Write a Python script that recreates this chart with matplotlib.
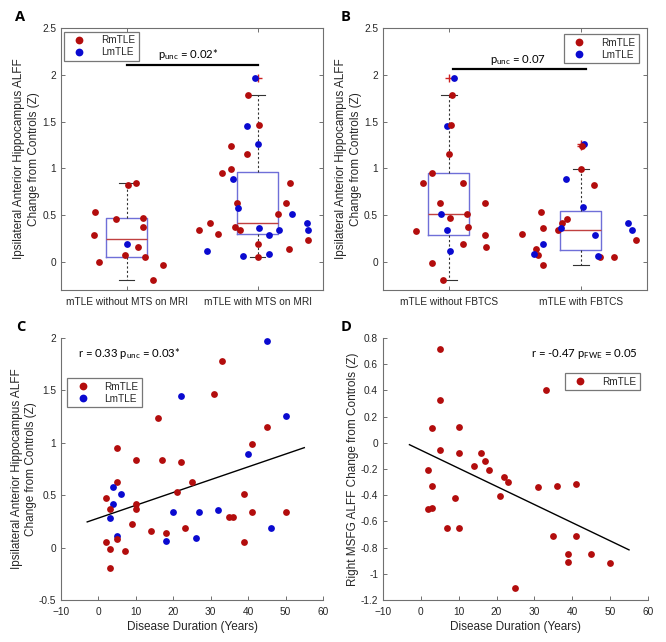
import numpy as np
import matplotlib
matplotlib.use("Agg")
import matplotlib.pyplot as plt
from matplotlib.lines import Line2D

plt.rcParams['font.family'] = ['Liberation Sans', 'DejaVu Sans']

RED = '#b30d0d'
BLUE = '#0a0ad0'

# ---------------- Panel A data (MTS on MRI) ----------------
a_cats = ['mTLE without MTS on MRI', 'mTLE with MTS on MRI']
a_g1_vals = [0.537, 0.29, 0.0, 0.455, 0.82, 0.84, 0.196, 0.466, 0.374, 0.164, 0.078, 0.053, -0.036, -0.19]
a_g1_side = ['R', 'R', 'R', 'R', 'R', 'R', 'L', 'R', 'R', 'R', 'R', 'R', 'R', 'R']
a_g1_jit = [-0.239, -0.247, -0.211, -0.084, 0.015, 0.069, 0.002, 0.127, 0.125, 0.084, -0.015, 0.14, 0.275, 0.206]
a_g2_vals = [1.97, 1.78, 1.45, 1.46, 1.24, 1.26, 1.15, 0.95, 0.99, 0.89, 0.84, 0.63, 0.58, 0.63, 0.51, 0.51,
             0.42, 0.42, 0.34, 0.295, 0.37, 0.34, 0.36, 0.34, 0.29, 0.34, 0.23, 0.196, 0.14, 0.114, 0.06, 0.053, 0.09]
a_g2_side = ['L', 'R', 'L', 'R', 'R', 'L', 'R', 'R', 'R', 'L', 'R', 'R', 'L', 'R', 'R', 'L',
             'R', 'L', 'R', 'R', 'R', 'R', 'L', 'L', 'L', 'L', 'R', 'R', 'R', 'L', 'L', 'R', 'L']
a_g2_jit = [-0.02, -0.072, -0.084, 0.01, -0.206, 0.0, -0.082, -0.27, -0.206, -0.19, 0.249, -0.157, -0.152, 0.219,
            0.16, 0.267, -0.359, 0.379, -0.443, -0.3, -0.175, -0.135, 0.015, 0.165, 0.084, 0.389, 0.384, 0.003,
            0.244, -0.387, -0.112, 0.0, 0.089]
a_p_text = 'p$_{\\mathregular{unc}}$ = 0.02*'

# ---------------- Panel B data (FBTCS) ----------------
b_cats = ['mTLE without FBTCS', 'mTLE with FBTCS']
b_g1_vals = [1.97, 1.78, 1.45, 1.466, 1.15, 0.95, 0.84, 0.84, 0.633, 0.51, 0.51, 0.633, 0.47, 0.335, 0.338,
             0.374, 0.29, 0.196, 0.164, 0.114, -0.007, -0.19]
b_g1_side = ['L', 'R', 'L', 'R', 'R', 'R', 'R', 'R', 'R', 'L', 'R', 'R', 'R', 'R', 'L',
             'R', 'R', 'R', 'R', 'L', 'R', 'R']
b_g1_jit = [0.041, 0.02, -0.015, 0.015, 0.0, -0.13, -0.198, 0.107, -0.071, -0.064, 0.135, 0.27, 0.008, -0.247,
            -0.018, 0.145, 0.272, 0.107, 0.277, 0.008, -0.132, -0.046]
b_g2_vals = [1.263, 1.24, 0.99, 0.89, 0.82, 0.584, 0.534, 0.42, 0.456, 0.367, 0.338, 0.363, 0.42, 0.338, 0.295,
             0.288, 0.231, 0.196, 0.142, 0.078, 0.089, 0.053, 0.06, 0.053, -0.036]
b_g2_side = ['L', 'R', 'R', 'L', 'R', 'L', 'R', 'R', 'R', 'R', 'R', 'L', 'L', 'L', 'R',
             'L', 'R', 'L', 'R', 'R', 'L', 'R', 'L', 'R', 'R']
b_g2_jit = [0.02, 0.01, 0.0, -0.117, 0.097, 0.015, -0.303, -0.14, -0.104, -0.285, -0.176, -0.153, 0.359, 0.389,
            -0.443, 0.109, 0.417, -0.285, -0.338, -0.326, -0.359, 0.142, 0.13, 0.254, -0.29]
b_p_text = 'p$_{\\mathregular{unc}}$ = 0.07'

# ---------------- Panel C data ----------------
c_dur = [45, 33, 31, 22, 16, 50, 45, 41, 40, 5, 10, 17, 22, 25, 5, 4, 6, 39, 21, 2, 4, 10, 3, 10, 20, 27, 32,
         35, 36, 41, 50, 3, 9, 14, 18, 23, 5, 5, 18, 26, 46, 39, 2, 3, 7, 3]
c_val = [1.97, 1.78, 1.47, 1.45, 1.24, 1.26, 1.15, 0.99, 0.89, 0.95, 0.84, 0.84, 0.82, 0.63, 0.63, 0.58, 0.51,
         0.51, 0.535, 0.47, 0.42, 0.42, 0.37, 0.365, 0.34, 0.34, 0.36, 0.29, 0.296, 0.34, 0.34, 0.287, 0.23,
         0.16, 0.14, 0.19, 0.11, 0.08, 0.06, 0.09, 0.19, 0.054, 0.054, -0.01, -0.035, -0.19]
c_side = ['L', 'R', 'R', 'L', 'R', 'L', 'R', 'R', 'L', 'R', 'R', 'R', 'R', 'R', 'R', 'L', 'L', 'R', 'R', 'R',
          'L', 'R', 'R', 'R', 'L', 'L', 'L', 'R', 'R', 'R', 'R', 'L', 'R', 'R', 'R', 'R', 'L', 'R', 'L', 'L',
          'L', 'R', 'R', 'R', 'R', 'R']
c_text = 'r = 0.33 p$_{\\mathregular{unc}}$ = 0.03*'

# ---------------- Panel D data ----------------
d_dur = [5, 5, 3, 10, 5, 10, 16, 17, 14, 18, 2, 22, 23, 3, 31, 36, 41, 33, 21, 9, 2, 3, 7, 10, 35, 41, 39, 39,
         45, 50, 25]
d_val = [0.72, 0.33, 0.11, 0.12, -0.058, -0.076, -0.076, -0.137, -0.177, -0.21, -0.21, -0.263, -0.30, -0.33,
         -0.337, -0.33, -0.314, 0.407, -0.406, -0.418, -0.505, -0.497, -0.647, -0.652, -0.708, -0.71, -0.847,
         -0.91, -0.852, -0.918, -1.106]
d_text = 'r = -0.47 p$_{\\mathregular{FWE}}$ = 0.05'

# ---------------- helpers ----------------
SPINE = '#707070'
TXT = '#262626'
ANN_FONT = ['Lato', 'DejaVu Sans']
TICK_FS = 7.3
LABEL_FS = 8.5
LEG_FS = 7.2
ANN_FS = 8.2
MS = 24


def style_axes(ax, box=True):
    for s in ax.spines.values():
        s.set_color(SPINE)
        s.set_linewidth(0.8)
    if not box:
        ax.spines['top'].set_visible(False)
        ax.spines['right'].set_visible(False)
    ax.tick_params(direction='in', length=3, width=0.7, color=SPINE, labelcolor=TXT, labelsize=TICK_FS,
                   top=box, right=box)
    ax.tick_params(axis='x', pad=5)
    ax.tick_params(axis='y', pad=3.5)


def box_stats(vals):
    v = np.asarray(vals, float)
    q1, med, q3 = np.percentile(v, [25, 50, 75], method='hazen')
    iqr = q3 - q1
    lo_f, hi_f = q1 - 1.5 * iqr, q3 + 1.5 * iqr
    inside = v[(v >= lo_f) & (v <= hi_f)]
    fl = v[(v < lo_f) | (v > hi_f)]
    return dict(med=med, q1=q1, q3=q3, whislo=inside.min(), whishi=inside.max(), fliers=fl)


def add_legend(ax, labels, colors, loc, anchor):
    handles = [Line2D([], [], marker='o', linestyle='none', markersize=5.6, color=c, markeredgewidth=0)
               for c in colors]
    leg = ax.legend(handles, labels, loc=loc, bbox_to_anchor=anchor, fontsize=LEG_FS, frameon=True,
                    fancybox=False, handlelength=2.4, handletextpad=1.0, borderpad=0.35, labelspacing=0.2,
                    borderaxespad=0, edgecolor='#777777', framealpha=1)
    leg.get_frame().set_linewidth(0.9)
    for t in leg.get_texts():
        t.set_color(TXT)


def box_panel(ax, cats, g_vals, g_sides, g_jits, ptext, bar_x, bar_y, text_x, legend_loc, legend_anchor):
    stats = [box_stats(v) for v in g_vals]
    ax.bxp(stats, positions=[1, 2], widths=0.31, showfliers=True, patch_artist=False,
           boxprops=dict(color='#6f6fd8', linewidth=1.0),
           medianprops=dict(color='#c04040', linewidth=1.0),
           whiskerprops=dict(color='#333333', linewidth=0.8, linestyle=(0, (2, 2))),
           capprops=dict(color='#333333', linewidth=0.8),
           capwidths=0.12,
           flierprops=dict(marker='+', markeredgecolor='#cc2222', markersize=6, markeredgewidth=1))
    for i, (vals, sides, jits) in enumerate(zip(g_vals, g_sides, g_jits)):
        for v, s, j in zip(vals, sides, jits):
            ax.scatter(i + 1 + j, v, s=MS, color=RED if s == 'R' else BLUE, zorder=4, linewidths=0)
    ax.plot(bar_x, [bar_y, bar_y], color='black', linewidth=1.6)
    ax.text(text_x, bar_y + 0.03, ptext, ha='center', va='bottom', fontsize=ANN_FS, family=ANN_FONT)
    ax.set_xlim(0.5, 2.5)
    ax.set_ylim(-0.3, 2.5)
    ax.set_xticks([1, 2])
    ax.set_xticklabels(cats)
    yt = np.arange(0, 2.51, 0.5)
    ax.set_yticks(yt)
    ax.set_yticklabels(['%g' % t for t in yt])
    ax.set_ylabel('Ipsilateral Anterior Hippocampus ALFF\nChange from Controls (Z)', fontsize=LABEL_FS,
                  color=TXT, labelpad=1.5, linespacing=1.3)
    style_axes(ax, box=True)
    add_legend(ax, ['RmTLE', 'LmTLE'], [RED, BLUE], legend_loc, legend_anchor)


fig = plt.figure(figsize=(6.66, 6.42), dpi=100)

axA = fig.add_axes([0.0916, 0.5483, 0.3934, 0.408])
axB = fig.add_axes([0.575, 0.5483, 0.3964, 0.408])
axC = fig.add_axes([0.0916, 0.0654, 0.3934, 0.408])
axD = fig.add_axes([0.575, 0.0654, 0.3979, 0.408])

box_panel(axA, a_cats, [a_g1_vals, a_g2_vals], [a_g1_side, a_g2_side], [a_g1_jit, a_g2_jit],
          a_p_text, [1, 2], 2.11, 1.47, 'upper left', (0.011, 0.985))
box_panel(axB, b_cats, [b_g1_vals, b_g2_vals], [b_g1_side, b_g2_side], [b_g1_jit, b_g2_jit],
          b_p_text, [1.03, 2.04], 2.057, 1.52, 'upper right', (0.97, 0.977))

# Panel C
for x, y, s in zip(c_dur, c_val, c_side):
    axC.scatter(x, y, s=MS, color=RED if s == 'R' else BLUE, zorder=4, linewidths=0)
kC = np.polyfit(np.array(c_dur, float), np.array(c_val, float), 1)
xf = np.array([-3, 55])
axC.plot(xf, np.polyval(kC, xf), color='black', linewidth=1.0)
axC.set_xlim(-10, 60)
axC.set_ylim(-0.5, 2)
axC.set_xticks(np.arange(-10, 61, 10))
cy = np.arange(-0.5, 2.01, 0.5)
axC.set_yticks(cy)
axC.set_yticklabels(['%g' % t for t in cy])
axC.set_xlabel('Disease Duration (Years)', fontsize=LABEL_FS, color=TXT, labelpad=3)
axC.set_ylabel('Ipsilateral Anterior Hippocampus ALFF\nChange from Controls (Z)', fontsize=LABEL_FS,
               color=TXT, labelpad=1, linespacing=1.3)
axC.text(0.063, 0.94, c_text, transform=axC.transAxes, ha='left', va='center', fontsize=ANN_FS,
         family=ANN_FONT)
style_axes(axC, box=False)
add_legend(axC, ['RmTLE', 'LmTLE'], [RED, BLUE], 'upper left', (0.023, 0.847))

# Panel D
for x, y in zip(d_dur, d_val):
    axD.scatter(x, y, s=MS, color=RED, zorder=4, linewidths=0)
kD = np.polyfit(np.array(d_dur, float), np.array(d_val, float), 1)
axD.plot(xf, np.polyval(kD, xf), color='black', linewidth=1.0)
axD.set_xlim(-10, 60)
axD.set_ylim(-1.2, 0.8)
axD.set_xticks(np.arange(-10, 61, 10))
dy = np.round(np.arange(-1.2, 0.81, 0.2), 1) + 0.0
axD.set_yticks(dy)
axD.set_yticklabels(['%g' % (t if abs(t) > 1e-9 else 0) for t in dy])
axD.set_xlabel('Disease Duration (Years)', fontsize=LABEL_FS, color=TXT, labelpad=3)
axD.set_ylabel('Right MSFG ALFF Change from Controls (Z)', fontsize=LABEL_FS, color=TXT, labelpad=1.5)
axD.text(0.96, 0.94, d_text, transform=axD.transAxes, ha='right', va='center', fontsize=ANN_FS,
         family=ANN_FONT)
style_axes(axD, box=False)
add_legend(axD, ['RmTLE'], [RED], 'upper right', (0.97, 0.866))

# Panel letters
for lab, (x, y) in zip(['A', 'B', 'C', 'D'], [(0.023, 0.973), (0.511, 0.974), (0.024, 0.49), (0.511, 0.49)]):
    fig.text(x, y, lab, fontsize=10.5, fontweight='bold', family=['Open Sans', 'DejaVu Sans'],
             ha='left', va='center')

fig.savefig('out.png', dpi=100)
